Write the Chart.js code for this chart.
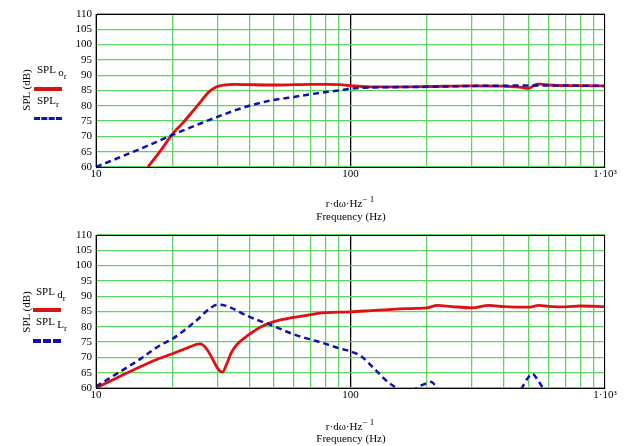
<!DOCTYPE html>
<html>
<head>
<meta charset="utf-8">
<script src="https://cdn.jsdelivr.net/npm/chart.js@4.4.1/dist/chart.umd.min.js"></script>
<style>
  body { margin: 0; background: #fff; width: 640px; height: 446px; overflow: hidden; position: relative; }
  .box { position: absolute; left: 0; width: 640px; height: 223px; }
  .txt { position: absolute; font-family: "Liberation Serif", "Times New Roman", serif; font-size: 11px; color: #000; white-space: nowrap; line-height: 14px; }
  .ytitle { transform: translate(-50%, -50%) rotate(-90deg); }
  .ctr { transform: translateX(-50%); }
  .lo { position: relative; top: 3px; }
  sub { font-size: 9px; vertical-align: -3px; }
  sup { font-size: 9px; vertical-align: 5px; }
  .swatch { position: absolute; height: 0; width: 28px; }
</style>
</head>
<body>
<div class="box" style="top:0"><canvas id="topChart"></canvas></div>
<div class="box" style="top:221px"><canvas id="bottomChart"></canvas></div>

<!-- top panel texts -->
<div class="txt ytitle" style="left:26px;top:90px">SPL (dB)</div>
<div class="txt" style="left:37px;top:62px">SPL <span class="lo">o<sub>r</sub></span></div>
<div class="swatch" style="left:34px;top:87px;border-top:4px solid #e01010"></div>
<div class="txt" style="left:37px;top:93px">SPL<sub>r</sub></div>
<div class="swatch" style="left:34px;top:117px;border-top:3px dashed #1010b0"></div>
<div class="txt ctr" style="left:350px;top:192px">r·dω·Hz<sup>− 1</sup></div>
<div class="txt ctr" style="left:351px;top:209px">Frequency (Hz)</div>

<!-- bottom panel texts -->
<div class="txt ytitle" style="left:26px;top:312px">SPL (dB)</div>
<div class="txt" style="left:36px;top:284px">SPL <span class="lo">d<sub>r</sub></span></div>
<div class="swatch" style="left:33px;top:308px;border-top:4px solid #e01010"></div>
<div class="txt" style="left:36px;top:314px">SPL <span class="lo">L<sub>r</sub></span></div>
<div class="swatch" style="left:33px;top:339px;border-top:4px dashed #1010b0"></div>
<div class="txt ctr" style="left:350px;top:415px">r·dω·Hz<sup>− 1</sup></div>
<div class="txt ctr" style="left:351px;top:431px">Frequency (Hz)</div>

<script>
// ---- data ----
// top panel: SPL o_r (red) and SPL_r (blue dashed)
const freqTopO = [16, 18, 20, 22, 25, 28, 30, 32, 35, 40, 50, 60, 70, 80, 90, 100, 110, 120, 150, 200, 300, 400, 450, 480, 500, 520, 540, 560, 600, 700, 800, 1000];
const splTopO  = [60, 65.5, 70.8, 74.5, 80, 84.8, 86.3, 86.8, 87, 86.9, 86.8, 86.9, 87, 87, 86.9, 86.6, 86.3, 86.2, 86.2, 86.3, 86.5, 86.4, 86.2, 85.9, 85.7, 86.4, 87.1, 87.1, 86.8, 86.6, 86.6, 86.5];

const freqTopR = [10, 15, 20, 25, 30, 40, 50, 60, 70, 80, 90, 100, 120, 150, 200, 300, 500, 700, 1000];
const splTopR  = [60, 66, 70.5, 73.8, 76.4, 80, 81.9, 82.9, 83.8, 84.5, 85, 85.6, 86, 86.1, 86.2, 86.5, 86.6, 86.6, 86.5];

// bottom panel: SPL d_r (red) and SPL L_r (blue dashed)
const freqBotD = [10, 15, 17.8, 20, 23, 25.6, 27.2, 28.9, 30.2, 31.4, 32.6, 34.1, 35.8, 40, 44, 50, 60, 70, 80, 100, 120, 150, 180, 200, 220, 250, 300, 350, 400, 500, 550, 600, 700, 800, 1000];
const splBotD  = [60, 67, 69.7, 71.2, 73.2, 74.4, 72.8, 69, 66.2, 65.2, 67.8, 71.7, 74.2, 77.5, 79.8, 81.7, 83.1, 84, 84.6, 84.9, 85.3, 85.8, 86, 86.2, 87, 86.6, 86.2, 87, 86.6, 86.4, 87, 86.7, 86.5, 86.8, 86.6];

const freqBotL = [10, 15, 17.8, 20, 25, 28, 30, 32, 40, 50, 60, 70, 76, 90, 100, 110, 125, 140, 151, 165, 182, 200, 208, 218, 240, 300, 400, 471, 500, 519, 545, 569, 600, 800, 1000];
const splBotL  = [60.5, 69.6, 73.9, 76.1, 82.3, 86, 87.2, 87, 83.3, 80.2, 77.5, 75.8, 75, 73, 72, 70.4, 66, 62, 60, 57, 60, 61.6, 62, 60, 55, 50, 52, 60, 63.5, 64.6, 62.5, 60, 55, 50, 48];

const xTicks = [10, 20, 30, 40, 50, 60, 70, 80, 90, 100, 200, 300, 400, 500, 600, 700, 800, 900, 1000];
const xLabels = { 10: '10', 100: '100', 1000: '1·10³' };

const RED = '#e01010';
const BLUE = '#1010b0';
const GRID = '#5fd35f';
const FONT = { family: '"Liberation Serif", "Times New Roman", serif', size: 11 };

function pts(xs, ys) {
  return xs.map((x, i) => ({ x: x, y: ys[i] }));
}

// black frame round the plot area
const framePlugin = {
  id: 'frame',
  afterDraw(chart) {
    const a = chart.chartArea;
    const ctx = chart.ctx;
    ctx.save();
    ctx.strokeStyle = '#000';
    ctx.lineWidth = 1;
    ctx.strokeRect(a.left + 0.5, a.top + 0.5, a.right - a.left - 1, a.bottom - a.top);
    ctx.restore();
  }
};

function makeChart(id, redPts, bluePts, blueDash) {
  const ctx = document.getElementById(id).getContext('2d');
  return new Chart(ctx, {
    type: 'line',
    data: {
      datasets: [
        {
          data: bluePts,
          borderColor: BLUE,
          borderWidth: 2.5,
          borderDash: blueDash,
          pointRadius: 0,
          fill: false,
          cubicInterpolationMode: 'monotone'
        },
        {
          data: redPts,
          borderColor: RED,
          borderWidth: 2.8,
          pointRadius: 0,
          fill: false,
          cubicInterpolationMode: 'monotone'
        }
      ]
    },
    options: {
      responsive: false,
      animation: false,
      layout: { padding: { left: 0, right: 35, top: 14, bottom: 0 } },
      plugins: { legend: { display: false }, tooltip: { enabled: false } },
      scales: {
        x: {
          type: 'logarithmic',
          min: 10,
          max: 1000,
          afterBuildTicks: scale => { scale.ticks = xTicks.map(v => ({ value: v })); },
          afterFit: scale => { scale.height = 56; },
          ticks: {
            autoSkip: false,
            maxRotation: 0,
            color: '#000',
            font: FONT,
            padding: 1,
            callback: v => xLabels[v] || ''
          },
          grid: {
            color: c => (c.tick && c.tick.value === 100 ? '#000' : GRID),
            lineWidth: 1.3,
            drawTicks: false
          },
          border: { color: '#000' }
        },
        y: {
          min: 60,
          max: 110,
          afterFit: scale => { scale.width = 96; },
          ticks: { stepSize: 5, autoSkip: false, color: '#000', font: FONT, padding: 4 },
          grid: { color: GRID, lineWidth: 1.3, drawTicks: false },
          border: { color: '#000' }
        }
      }
    },
    plugins: [framePlugin]
  });
}

const cvTop = document.getElementById('topChart');
const cvBot = document.getElementById('bottomChart');
cvTop.width = 640; cvTop.height = 223;
cvBot.width = 640; cvBot.height = 223;

makeChart('topChart', pts(freqTopO, splTopO), pts(freqTopR, splTopR), [6, 4]);
makeChart('bottomChart', pts(freqBotD, splBotD), pts(freqBotL, splBotL), [6, 4]);
</script>
</body>
</html>
